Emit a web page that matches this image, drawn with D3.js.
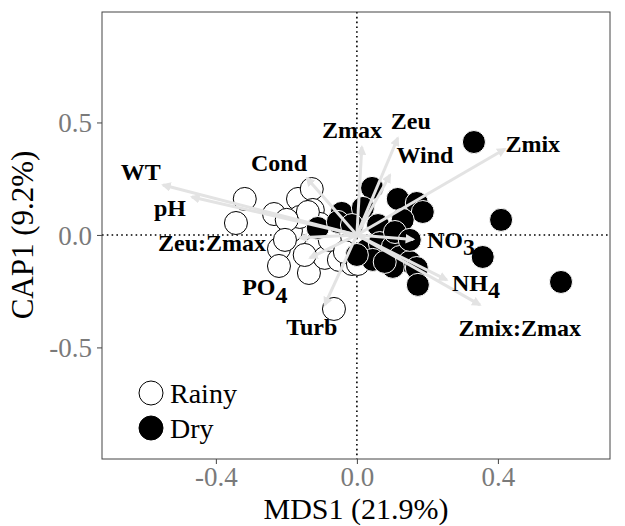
<!DOCTYPE html>
<html>
<head>
<meta charset="utf-8">
<script src="https://cdn.jsdelivr.net/npm/d3@7"></script>
<style>
  body { margin: 0; background: #fff; }
  svg { font-family: "Liberation Serif", "Times New Roman", serif; }
</style>
</head>
<body>
<div id="chart"></div>
<script>
// Rainy season sites (open circles)
const rainyX = [-0.318, -0.343, -0.235, -0.167, -0.128, -0.187, -0.221, -0.221, -0.136, -0.065, -0.119, -0.091,
                -0.051, -0.014, -0.125, -0.105, -0.162, -0.139, -0.199, -0.077, -0.034, -0.204, -0.148, 0.003];
const rainyY = [0.160, 0.053, 0.093, 0.160, 0.204, 0.018, -0.062, -0.138, -0.169, -0.329, -0.058, -0.102,
                -0.111, -0.129, 0.111, 0.049, 0.080, 0.102, 0.067, -0.022, -0.076, -0.022, -0.089, -0.129];
// Dry season sites (filled circles)
const dryX = [0.043, 0.116, 0.170, 0.187, 0.130, -0.043, 0.017, -0.111, -0.054, 0.060, 0.028, 0.065, 0.102, 0.122,
              0.150, 0.170, 0.173, 0.102, 0.045, 0.000, 0.332, 0.409, 0.357, 0.579, 0.108, 0.150, -0.014, 0.079];
const dryY = [0.209, 0.160, 0.142, 0.102, 0.067, 0.098, 0.120, 0.031, 0.058, 0.044, -0.067, -0.036, -0.053, -0.098,
              -0.120, -0.147, -0.222, -0.142, -0.111, -0.089, 0.413, 0.067, -0.098, -0.209, 0.013, -0.022, 0.044, -0.120];

// environmental vectors: name, sub-script part, arrow tip, label position
const envNames = ['WT', 'pH', 'Cond', 'Zeu:Zmax', 'PO', 'Turb', 'Zmax', 'Zeu', 'Wind', 'Zmix', 'NO', 'NH', 'Zmix:Zmax'];
const envSubs  = ['', '', '', '', '4', '', '', '', '', '', '3-', '4', ''];
const envX     = [-0.550, -0.468, -0.142, -0.162, -0.133, -0.091, 0.014, 0.116, 0.094, 0.420, 0.160, 0.255, 0.349];
const envY     = [0.222, 0.169, 0.253, -0.013, -0.102, -0.311, 0.391, 0.431, 0.267, 0.382, -0.020, -0.200, -0.311];
const labX     = [-0.613, -0.530, -0.221, -0.411, -0.261, -0.128, -0.014, 0.153, 0.193, 0.499, 0.278, 0.338, 0.462];
const labY     = [0.280, 0.120, 0.320, -0.036, -0.231, -0.409, 0.467, 0.507, 0.356, 0.404, -0.022, -0.213, -0.413];

const xTicks = [-0.4, 0.0, 0.4];
const yTicks = [-0.5, 0.0, 0.5];

const width = 625, height = 526;
const margin = {top: 12, right: 15, bottom: 67, left: 102};

const svg = d3.select('#chart').append('svg')
    .attr('width', width)
    .attr('height', height);

const x = d3.scaleLinear().domain([-0.723, 0.718]).range([margin.left, width - margin.right]);
const y = d3.scaleLinear().domain([-0.996, 0.991]).range([height - margin.bottom, margin.top]);

// zero lines
svg.append('line')
   .attr('x1', x(0)).attr('x2', x(0))
   .attr('y1', margin.top).attr('y2', height - margin.bottom)
   .attr('stroke', '#000').attr('stroke-width', 1.6).attr('stroke-dasharray', '1.6,3.2');
svg.append('line')
   .attr('x1', margin.left).attr('x2', width - margin.right)
   .attr('y1', y(0)).attr('y2', y(0))
   .attr('stroke', '#000').attr('stroke-width', 1.6).attr('stroke-dasharray', '1.6,3.2');

// points
const rainy = rainyX.map((v, i) => [v, rainyY[i]]);
const dry = dryX.map((v, i) => [v, dryY[i]]);

svg.selectAll('circle.rainy')
   .data(rainy)
   .enter().append('circle')
   .attr('class', 'rainy')
   .attr('cx', d => x(d[0]))
   .attr('cy', d => y(d[1]))
   .attr('r', 11.5)
   .attr('fill', '#fff')
   .attr('stroke', '#000')
   .attr('stroke-width', 1);

svg.selectAll('circle.dry')
   .data(dry)
   .enter().append('circle')
   .attr('class', 'dry')
   .attr('cx', d => x(d[0]))
   .attr('cy', d => y(d[1]))
   .attr('r', 11.5)
   .attr('fill', '#000')
   .attr('stroke', '#fff')
   .attr('stroke-width', 1);

// arrows
svg.append('defs').append('marker')
   .attr('id', 'head')
   .attr('viewBox', '0 0 10 10')
   .attr('refX', 8).attr('refY', 5)
   .attr('markerWidth', 3.2).attr('markerHeight', 3.2)
   .attr('orient', 'auto')
   .append('path')
   .attr('d', 'M0,0 L10,5 L0,10 z')
   .attr('fill', '#e3e3e3');

svg.selectAll('line.env')
   .data(envNames)
   .enter().append('line')
   .attr('class', 'env')
   .attr('x1', x(0)).attr('y1', y(0))
   .attr('x2', (d, i) => x(envX[i]))
   .attr('y2', (d, i) => y(envY[i]))
   .attr('stroke', '#e3e3e3')
   .attr('stroke-width', 3)
   .attr('marker-end', 'url(#head)');

const labels = svg.selectAll('text.env')
   .data(envNames)
   .enter().append('text')
   .attr('class', 'env')
   .attr('x', (d, i) => x(labX[i]))
   .attr('y', (d, i) => y(labY[i]))
   .attr('dy', '0.35em')
   .attr('text-anchor', 'middle')
   .attr('font-weight', 'bold')
   .attr('font-size', 24)
   .attr('fill', '#000');
labels.append('tspan').text(d => d);
labels.append('tspan')
   .attr('dy', '0.3em')
   .text((d, i) => envSubs[i]);

// panel border
svg.append('rect')
   .attr('x', margin.left).attr('y', margin.top)
   .attr('width', width - margin.right - margin.left)
   .attr('height', height - margin.bottom - margin.top)
   .attr('fill', 'none')
   .attr('stroke', '#444')
   .attr('stroke-width', 1);

// axes
const fmt = d => d3.format('.1f')(d).replace('\u2212', '-');
const xAxis = svg.append('g')
   .attr('transform', 'translate(0,' + (height - margin.bottom) + ')')
   .call(d3.axisBottom(x).tickValues(xTicks).tickFormat(fmt).tickSize(5).tickPadding(3));
const yAxis = svg.append('g')
   .attr('transform', 'translate(' + margin.left + ',0)')
   .call(d3.axisLeft(y).tickValues(yTicks).tickFormat(fmt).tickSize(5).tickPadding(5));

[xAxis, yAxis].forEach(g => {
  g.select('.domain').remove();
  g.selectAll('line').attr('stroke', '#444');
  g.selectAll('text')
   .attr('font-family', '"Liberation Serif", serif')
   .attr('font-size', 27)
   .attr('fill', '#7a7a7a');
});
xAxis.selectAll('text').attr('dy', '0.71em');
yAxis.selectAll('text').attr('dy', '0.35em');

// axis titles
svg.append('text')
   .attr('x', (margin.left + width - margin.right) / 2)
   .attr('y', 519)
   .attr('text-anchor', 'middle')
   .attr('font-size', 30)
   .text('MDS1 (21.9%)');
svg.append('text')
   .attr('transform', 'translate(33,' + y(0) + ') rotate(-90)')
   .attr('text-anchor', 'middle')
   .attr('font-size', 31)
   .text('CAP1 (9.2%)');

// legend
const legend = svg.append('g');
[['Rainy', '#fff'], ['Dry', '#000']].forEach((item, i) => {
  legend.append('circle')
     .attr('cx', 151).attr('cy', 393 + i * 35)
     .attr('r', 12)
     .attr('fill', item[1])
     .attr('stroke', '#000');
  legend.append('text')
     .attr('x', 170).attr('y', 393 + i * 35)
     .attr('dy', '0.35em')
     .attr('font-size', 28)
     .text(item[0]);
});
</script>
</body>
</html>
